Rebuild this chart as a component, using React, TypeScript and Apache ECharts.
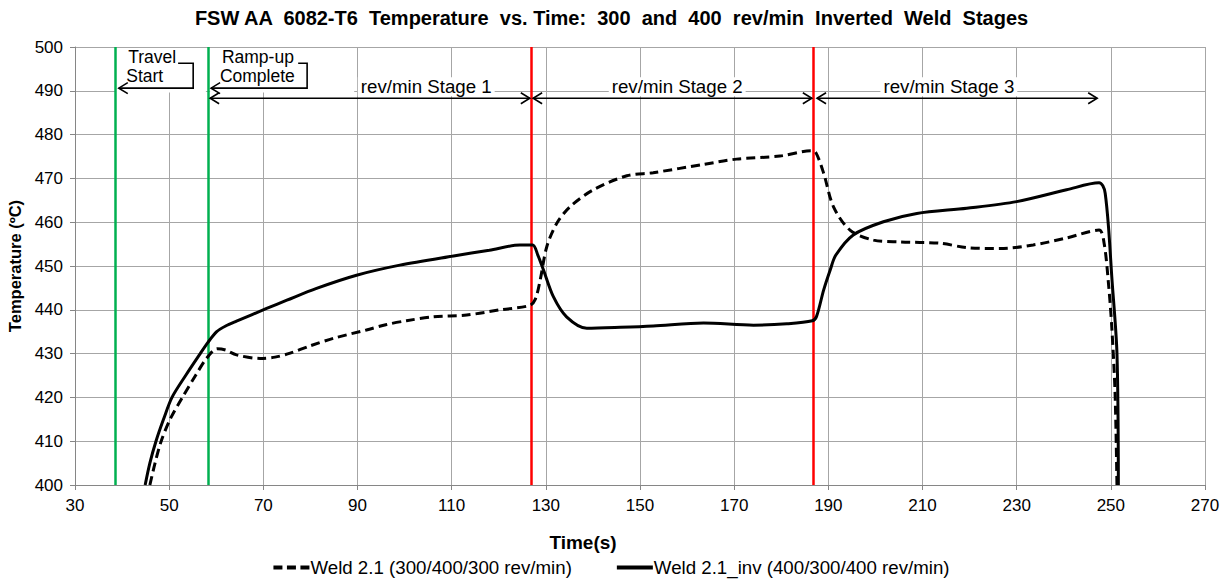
import React, { useEffect, useRef } from "react";
import * as echarts from "echarts";

const TITLE = "FSW AA  6082-T6  Temperature  vs. Time:  300  and  400  rev/min  Inverted  Weld  Stages";
const X_NAME = "Time(s)";
const Y_NAME = "Temperature (ºC)";
const SERIES_NAMES = ["Weld 2.1 (300/400/300 rev/min)", "Weld 2.1_inv (400/300/400 rev/min)"];

const X_MIN = 30, X_MAX = 270, X_STEP = 20;
const Y_MIN = 400, Y_MAX = 500, Y_STEP = 10;

// Weld 2.1 (dashed)
const weld21: [number, number][] = [
  [45.9, 400], [47.0, 405], [48.3, 410], [50.2, 415], [52.8, 420], [55.6, 425], [58.0, 429],
  [60.2, 431.1], [62, 430.8], [64.3, 429.7], [69.3, 428.9], [72.5, 429.2], [75.7, 430.1], [80, 431.8],
  [84.9, 433.5], [91.9, 435.4], [96, 436.6], [100.4, 437.5], [106.1, 438.4], [113.2, 438.8],
  [120.3, 440.0], [126.6, 441.0], [127.8, 442.5], [128.8, 446.8], [130.2, 454.4], [132.3, 459.7],
  [135.1, 463.5], [140.1, 467.4], [147.2, 470.6], [152.8, 471.3], [163.5, 473.2], [170.5, 474.4],
  [179.7, 475.1], [186.3, 476.3], [187.3, 476.0], [189.0, 471.2], [191.1, 463.5], [194.6, 458.2],
  [199.6, 455.9], [205.2, 455.5], [213.7, 455.2], [219.4, 454.2], [226.5, 454.0], [233.5, 454.8],
  [240.6, 456.4], [247.5, 458.2], [248.6, 455], [249.5, 446], [250.2, 436.1], [250.9, 420.9],
  [251.3, 400],
];

// Weld 2.1_inv (solid)
const weld21inv: [number, number][] = [
  [44.9, 400], [45.9, 405], [47.2, 410], [48.8, 415], [50.6, 420], [53.5, 425], [56.6, 430],
  [58.2, 432.5], [60.1, 435.0], [62, 436.3], [64.3, 437.4], [70.7, 440.3], [75, 442.2], [81.3, 444.9],
  [89.8, 447.9], [99.0, 450.2], [110.4, 452.3], [118, 453.6], [124.5, 454.8], [127.2, 454.8],
  [128.3, 452.5], [129.5, 449.1], [131.6, 443.0], [134.4, 438.4], [138.7, 435.8], [145.8, 436.0],
  [152.8, 436.3], [163.5, 437.0], [174.1, 436.5], [181.2, 436.8], [186.6, 437.5], [187.5, 438.5],
  [189.0, 444.5], [190.4, 449.1], [191.6, 452.5], [195.3, 457.1], [201.7, 460.1], [208.8, 462.0],
  [219.4, 463.2], [230.0, 464.7], [240.6, 467.4], [247.5, 469.0], [248.3, 468.3], [248.8, 466.6],
  [249.5, 459.0], [250.2, 447.6], [251.3, 430.1], [251.6, 400],
];

const greenLines = [38.5, 58.2];
const redLines = [126.9, 186.8];

const stageArrowY = 488.3;
const stageLabelY = 490.9;
const stageFrom = [58.7, 127.3, 187.6];
const stageTo = [126.6, 186.5, 247.1];
const stageLabels = ["rev/min Stage 1", "rev/min Stage 2", "rev/min Stage 3"];
const stageLabelX = [104.6, 157.9, 215.6];

const calloutLines = [["Travel", "Start"], ["Ramp-up", "Complete"]];
const calloutTipX = [39.3, 58.9];
const calloutRightX = [55.1, 79.3];
const calloutHookX = [51.9, 77.4];
const calloutTextX = [41.3, 61.2];
const calloutBoxFrom = [38.7, 58.7];
const calloutBoxTo = [57.8, 89.3];
const calloutTipY = 490.6;
const calloutTopY = 496.3;
const calloutLine1Y = 497.7;
const calloutLine2Y = 493.4;
const calloutBoxBottomY = 489.6;

const FONT = "'Liberation Sans', Arial, sans-serif";
const GRID_COLOR = "#a6a6a6";
const AXIS_COLOR = "#868686";

const DASH_ICON = "path://M0,0h9v4h-9z M13.5,0h9v4h-9z M27,0h9v4h-9z";
const SOLID_ICON = "path://M0,0h36v4h-36z";

export default function App() {
  const ref = useRef<HTMLDivElement>(null);

  useEffect(() => {
    if (!ref.current) return;
    const chart = echarts.init(ref.current, undefined, { renderer: "svg" });

    const vLines = [
      ...greenLines.map((v) => ({ xAxis: v, lineStyle: { color: "#00b050", width: 2.5, type: "solid" } })),
      ...redLines.map((v) => ({ xAxis: v, lineStyle: { color: "#ff0000", width: 2.5, type: "solid" } })),
    ];

    chart.setOption({
      animation: false,
      textStyle: { fontFamily: FONT },
      title: {
        text: TITLE,
        left: "center",
        top: 3,
        textStyle: { fontSize: 20, fontWeight: "bold", color: "#000", fontFamily: FONT },
      },
      grid: { left: 75, right: 18, top: 47, bottom: 95, containLabel: false, outerBoundsMode: "none" },
      legend: {
        data: [
          { name: SERIES_NAMES[0], icon: DASH_ICON },
          { name: SERIES_NAMES[1], icon: SOLID_ICON },
        ],
        left: "center",
        top: 553,
        itemWidth: 36,
        itemHeight: 4,
        itemGap: 45,
        itemStyle: { color: "#000" },
        textStyle: { fontSize: 18.7, color: "#000", fontFamily: FONT, padding: [0, 0, 0, -4] },
      },
      xAxis: {
        type: "value",
        min: X_MIN,
        max: X_MAX,
        interval: X_STEP,
        name: X_NAME,
        nameLocation: "middle",
        nameGap: 48,
        nameTextStyle: { fontSize: 19, fontWeight: "bold", color: "#000", padding: [0, 114, 0, 0] },
        axisLine: { lineStyle: { color: AXIS_COLOR, width: 1 } },
        axisTick: { show: true, inside: false, length: 5, lineStyle: { color: AXIS_COLOR } },
        axisLabel: { fontSize: 17, color: "#000", margin: 12 },
        splitLine: { show: true, lineStyle: { color: GRID_COLOR, width: 1 } },
      },
      yAxis: {
        type: "value",
        min: Y_MIN,
        max: Y_MAX,
        interval: Y_STEP,
        name: Y_NAME,
        nameLocation: "middle",
        nameGap: 50,
        nameTextStyle: { fontSize: 16.5, fontWeight: "bold", color: "#000" },
        axisLine: { show: true, lineStyle: { color: AXIS_COLOR, width: 1 } },
        axisTick: { show: true, inside: false, length: 5, lineStyle: { color: AXIS_COLOR } },
        axisLabel: { fontSize: 17, color: "#000", margin: 12 },
        splitLine: { show: true, lineStyle: { color: GRID_COLOR, width: 1 } },
      },
      series: [
        {
          name: SERIES_NAMES[0],
          type: "line",
          data: weld21,
          symbol: "none",
          smooth: 0.3,
          clip: true,
          lineStyle: { color: "#000", width: 3, type: [9, 5] },
          itemStyle: { color: "#000" },
          z: 3,
          markLine: {
            silent: true,
            symbol: ["none", "none"],
            label: { show: false },
            data: vLines,
            z: 2,
          },
        },
        {
          name: SERIES_NAMES[1],
          type: "line",
          data: weld21inv,
          symbol: "none",
          smooth: 0.3,
          clip: true,
          lineStyle: { color: "#000", width: 3, type: "solid" },
          itemStyle: { color: "#000" },
          z: 4,
        },
      ],
    });

    const px = (x: number, y: number) =>
      chart.convertToPixel({ xAxisIndex: 0, yAxisIndex: 0 }, [x, y]) as number[];

    const els: any[] = [];
    const lineStyle = { stroke: "#000", lineWidth: 1.6, fill: "none" };
    const chevron = (tip: number[], dir: number) => ({
      type: "polyline",
      z: 5,
      shape: { points: [[tip[0] + dir * 9, tip[1] - 5.5], tip, [tip[0] + dir * 9, tip[1] + 5.5]] },
      style: lineStyle,
    });

    calloutLines.forEach((lines, i) => {
      const a = px(calloutBoxFrom[i], Y_MAX);
      const b = px(calloutBoxTo[i], calloutBoxBottomY);
      els.push({
        type: "rect",
        z: 1,
        shape: { x: a[0], y: a[1] + 1, width: b[0] - a[0], height: b[1] - a[1] - 1 },
        style: { fill: "#fff" },
      });
      const tip = px(calloutTipX[i], calloutTipY);
      const right = px(calloutRightX[i], calloutTipY);
      const top = px(calloutRightX[i], calloutTopY);
      const hook = px(calloutHookX[i], calloutTopY);
      els.push({
        type: "polyline",
        z: 5,
        shape: { points: [tip, right, top, hook] },
        style: lineStyle,
      });
      els.push(chevron(tip, 1));
      const t1 = px(calloutTextX[i], calloutLine1Y);
      const t2 = px(calloutTextX[i], calloutLine2Y);
      els.push({
        type: "text",
        z: 5,
        x: t1[0],
        y: t1[1],
        style: { text: lines[0], fontSize: 17.5, fontFamily: FONT, fill: "#000", align: "left", verticalAlign: "middle" },
      });
      els.push({
        type: "text",
        z: 5,
        x: t2[0] - 2,
        y: t2[1],
        style: { text: lines[1], fontSize: 17.5, fontFamily: FONT, fill: "#000", align: "left", verticalAlign: "middle" },
      });
    });

    stageLabels.forEach((label, i) => {
      const a = px(stageFrom[i], stageArrowY);
      const b = px(stageTo[i], stageArrowY);
      els.push({ type: "line", z: 5, shape: { x1: a[0], y1: a[1], x2: b[0], y2: b[1] }, style: lineStyle });
      els.push(chevron(a, 1));
      els.push(chevron(b, -1));
      const t = px(stageLabelX[i], stageLabelY);
      els.push({
        type: "text",
        z: 5,
        x: t[0],
        y: t[1],
        style: {
          text: label,
          fontSize: 18.7,
          fontFamily: FONT,
          fill: "#000",
          align: "center",
          verticalAlign: "middle",
          backgroundColor: "#fff",
          padding: [0, 3, 0, 3],
        },
      });
    });

    chart.setOption({ graphic: els });

    return () => chart.dispose();
  }, []);

  return <div ref={ref} style={{ width: 1223, height: 580, position: "absolute", left: 0, top: 0 }} />;
}
